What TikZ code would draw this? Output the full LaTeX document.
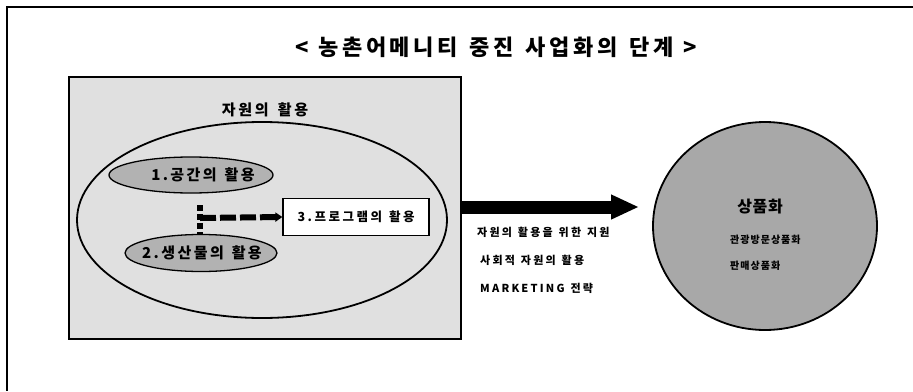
\documentclass[tikz,border=0pt]{standalone}
\usepackage{fontspec}
\setmainfont{Noto Sans CJK KR}
\usetikzlibrary{shapes.geometric,arrows.meta}
\definecolor{boxfill}{gray}{0.88}
\definecolor{ellfill}{gray}{0.70}
\definecolor{circfill}{gray}{0.66}
\newcommand{\wsp}[1]{\hspace*{#1pt}}
\tikzset{
  frameline/.style={line width=2.2pt},
  panel/.style={draw, line width=1.6pt, fill=boxfill, rectangle, inner sep=0pt, anchor=north west},
  bigell/.style={draw, line width=1.8pt, ellipse, inner sep=0pt},
  smallell/.style={draw, line width=1.3pt, fill=ellfill, ellipse, inner sep=0pt},
  elltxt/.style={inner sep=0pt, font=\bfseries\fontsize{15}{17}\selectfont\addfontfeature{LetterSpace=16}},
  progbox/.style={draw, line width=1.3pt, fill=white, rectangle, inner sep=0pt, font=\bfseries\fontsize{12.5}{14}\selectfont\addfontfeature{LetterSpace=20}},
  vdash/.style={line width=6pt, dash pattern=on 6pt off 3pt},
  hdash/.style={line width=6pt, dash pattern=on 16pt off 4pt, -{Triangle[length=7pt,width=9pt]}},
  bigarrow/.style={line width=13pt, -{Triangle[length=28pt,width=23pt]}},
  small/.style={anchor=west, inner sep=0pt, font=\bfseries\fontsize{11}{12}\selectfont\addfontfeature{LetterSpace=20}},
  circtxt/.style={inner sep=0pt, anchor=west, font=\bfseries\fontsize{10}{12}\selectfont\addfontfeature{LetterSpace=10}}
}
\begin{document}
\begin{tikzpicture}[x=1pt,y=-1pt]
\useasboundingbox (0,0) rectangle (913,391);
% outer frame
\coordinate (ftl) at (7,7);
\coordinate (ftr) at (913,7);
\coordinate (fbl) at (7,391);
\draw[frameline] (ftr) -- (ftl) -- (fbl);
% title
\node[font=\bfseries\fontsize{22}{25}\selectfont\addfontfeature{LetterSpace=16}] (title) at (496,47) {<\wsp{10}농촌어메니티\wsp{12}중진\wsp{12}사업화의\wsp{12}단계\wsp{10}>};
% left panel
\node[panel, minimum width=392pt, minimum height=262pt] (res) at (68,76) {};
\node[font=\bfseries\fontsize{15}{17}\selectfont\addfontfeature{LetterSpace=18}] (restitle) at (265,110) {자원의\wsp{9}활용};
\node[bigell, minimum width=370pt, minimum height=196pt] (big) at (262,220) {};
\node[smallell, minimum width=164pt, minimum height=36pt] (e1) at (191,175) {};
\node[elltxt] (e1t) at (203,175) {1.공간의\wsp{8}활용};
\node[smallell, minimum width=152pt, minimum height=37pt] (e2) at (201,253) {};
\node[elltxt] (e2t) at (202,253) {2.생산물의\wsp{8}활용};
\node[progbox, minimum width=146pt, minimum height=37pt] (p3) at (356,217) {3.프로그램의\wsp{7}활용};
% dashed connector
\coordinate (vtop) at (200,205);
\coordinate (vbot) at (200,234);
\coordinate (junc) at (200,218);
\draw[vdash] (vtop) -- (vbot);
\draw[hdash] (junc) -- (p3.west);
% big arrow
\coordinate (tip) at (639,207);
\draw[bigarrow] (res.east |- tip) -- (tip);
\node[small] (t1) at (477,232) {자원의\wsp{6}활용을\wsp{6}위한\wsp{6}지원};
\node[small] (t2) at (480,260) {사회적\wsp{6}자원의\wsp{6}활용};
\node[small] (t3) at (480,288) {MARKETING\wsp{6}전략};
% product circle
\node[draw, line width=1.8pt, fill=circfill, ellipse, minimum width=224pt, minimum height=208pt] (prod) at (765,226) {};
\node[inner sep=0pt, font=\bfseries\fontsize{16}{18}\selectfont\addfontfeature{LetterSpace=4}] (ptitle) at (760,207) {상품화};
\node[circtxt] (p1) at (730,240) {관광방문상품화};
\node[circtxt] (p2) at (730,266) {판매상품화};
\end{tikzpicture}
\end{document}
